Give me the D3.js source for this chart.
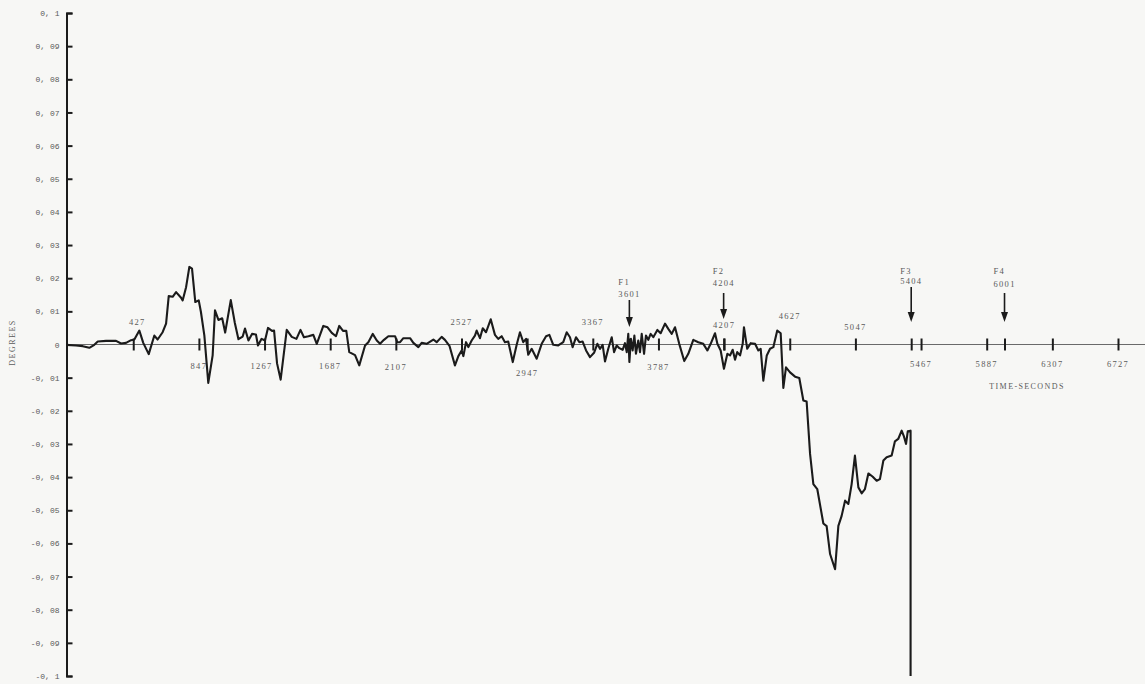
<!DOCTYPE html>
<html>
<head>
<meta charset="utf-8">
<script src="https://cdn.jsdelivr.net/npm/d3@7"></script>
<style>
  html, body { margin: 0; padding: 0; background: #f7f7f5; }
  svg { display: block; }
</style>
</head>
<body>
<svg id="chart" width="1145" height="684"></svg>
<script>
// Attitude error trace (degrees) against elapsed time (seconds)
const timeSec = [
  0, 61, 104, 146, 178, 200, 253, 317, 349, 381,
  413, 434, 466, 491, 526, 562, 583, 615, 637, 654,
  679, 701, 733, 743, 765, 786, 803, 824, 846, 860,
  882, 907, 935, 950, 972, 996, 1015, 1051, 1077, 1100,
  1127, 1142, 1164, 1187, 1212, 1225, 1248, 1270, 1289, 1315,
  1328, 1347, 1370, 1409, 1441, 1471, 1497, 1519, 1548, 1579,
  1601, 1643, 1670, 1697, 1724, 1745, 1769, 1790, 1809, 1846,
  1873, 1910, 1931, 1959, 1985, 2006, 2031, 2059, 2102, 2116,
  2134, 2155, 2198, 2219, 2251, 2272, 2304, 2347, 2368, 2400,
  2421, 2450, 2485, 2507, 2528, 2539, 2556, 2571, 2592, 2613,
  2624, 2645, 2663, 2684, 2714, 2741, 2762, 2784, 2805, 2826,
  2855, 2880, 2901, 2922, 2940, 2954, 2976, 3008, 3040, 3068,
  3089, 3114, 3146, 3178, 3200, 3221, 3238, 3260, 3281, 3302,
  3324, 3349, 3375, 3396, 3413, 3430, 3445, 3466, 3488, 3503,
  3520, 3537, 3558, 3573, 3584, 3594, 3601, 3611, 3622, 3633,
  3643, 3658, 3669, 3680, 3695, 3707, 3722, 3737, 3754, 3780,
  3801, 3829, 3850, 3872, 3893, 3920, 3952, 3978, 4010, 4042,
  4074, 4100, 4121, 4149, 4164, 4185, 4206, 4228, 4245, 4262,
  4277, 4291, 4309, 4326, 4334, 4355, 4377, 4405, 4426, 4441,
  4458, 4480, 4501, 4522, 4547, 4569, 4586, 4603, 4629, 4661,
  4688, 4714, 4735, 4757, 4778, 4803, 4842, 4863, 4885, 4917,
  4938, 4959, 4981, 5002, 5023, 5044, 5066, 5087, 5108, 5130,
  5158, 5183, 5204, 5226, 5247, 5279, 5300, 5321, 5343, 5358,
  5371, 5382, 5400, 5400
];
const degrees = [
  -0.0001, -0.0003, -0.0005, -0.0010, -0.0001, 0.0009, 0.0011, 0.0011, 0.0003, 0.0005,
  0.0013, 0.0015, 0.0042, 0.0005, -0.0029, 0.0027, 0.0015, 0.0037, 0.0063, 0.0146,
  0.0144, 0.0158, 0.0141, 0.0133, 0.0173, 0.0234, 0.0229, 0.0128, 0.0133, 0.0098,
  0.0027, -0.0116, -0.0033, 0.0103, 0.0074, 0.0079, 0.0036, 0.0134, 0.0065, 0.0016,
  0.0024, 0.0048, 0.0012, 0.0032, 0.0030, -0.0003, 0.0017, 0.0012, 0.0050, 0.0041,
  0.0042, -0.0057, -0.0106, 0.0044, 0.0023, 0.0017, 0.0044, 0.0022, 0.0025, 0.0029,
  0.0002, 0.0056, 0.0052, 0.0035, 0.0025, 0.0056, 0.0041, 0.0041, -0.0023, -0.0032,
  -0.0063, -0.0003, 0.0007, 0.0032, 0.0012, 0.0002, 0.0014, 0.0025, 0.0025, 0.0007,
  0.0007, 0.0019, 0.0019, 0.0005, -0.0008, 0.0005, 0.0002, 0.0015, 0.0007, 0.0023,
  0.0014, -0.0004, -0.0063, -0.0035, -0.0018, -0.0035, 0.0007, -0.0008, 0.0012, 0.0027,
  0.0042, 0.0019, 0.0049, 0.0037, 0.0076, 0.0029, 0.0017, 0.0025, 0.0007, 0.0009,
  -0.0053, -0.0001, 0.0037, 0.0007, 0.0017, -0.0031, -0.0013, -0.0043, 0.0002, 0.0025,
  0.0029, -0.0001, -0.0003, 0.0007, 0.0037, 0.0022, -0.0008, 0.0022, 0.0007, 0.0009,
  -0.0018, -0.0038, -0.0025, 0.0002, -0.0013, -0.0001, -0.0051, -0.0013, 0.0022, -0.0023,
  -0.0003, -0.0011, -0.0016, 0.0004, -0.0023, 0.0032, -0.0053, 0.0017, -0.0018, 0.0027,
  -0.0028, 0.0012, -0.0023, 0.0032, -0.0028, 0.0027, 0.0014, 0.0032, 0.0022, 0.0044,
  0.0034, 0.0063, 0.0047, 0.0032, 0.0052, 0.0002, -0.0050, -0.0028, 0.0014, 0.0007,
  0.0002, -0.0018, 0.0002, 0.0034, 0.0002, -0.0018, -0.0073, -0.0028, -0.0033, -0.0016,
  -0.0046, -0.0023, -0.0033, 0.0002, 0.0052, -0.0013, 0.0004, 0.0002, -0.0018, -0.0013,
  -0.0109, -0.0033, -0.0013, -0.0008, 0.0042, 0.0034, -0.0131, -0.0069, -0.0084, -0.0097,
  -0.0101, -0.0169, -0.0172, -0.0330, -0.0421, -0.0436, -0.0540, -0.0548, -0.0632, -0.0678,
  -0.0547, -0.0517, -0.0471, -0.0481, -0.0421, -0.0335, -0.0431, -0.0449, -0.0436, -0.0389,
  -0.0399, -0.0411, -0.0406, -0.0350, -0.0340, -0.0335, -0.0292, -0.0285, -0.0260, -0.0278,
  -0.0300, -0.0262, -0.0260, -0.1000
];

const yTickValues = [0.1, 0.09, 0.08, 0.07, 0.06, 0.05, 0.04, 0.03, 0.02, 0.01, 0,
  -0.01, -0.02, -0.03, -0.04, -0.05, -0.06, -0.07, -0.08, -0.09, -0.1];
const yTickLabels = ["0, 1", "0, 09", "0, 08", "0, 07", "0, 06", "0, 05", "0, 04", "0, 03", "0, 02", "0, 01", "0",
  "-0, 01", "-0, 02", "-0, 03", "-0, 04", "-0, 05", "-0, 06", "-0, 07", "-0, 08", "-0, 09", "-0, 1"];
const xTickValues = [427, 847, 1267, 1687, 2107, 2527, 2947, 3367, 3787, 4207, 4627, 5047, 5467, 5887, 6307, 6727];
const eventNames = ["F1", "F2", "F3", "F4"];
const eventTimes = [3601, 4204, 5404, 6001];

const svg = d3.select("#chart");
const x = d3.scaleLinear().domain([0, 6727]).range([66.5, 1118]);
const y = d3.scaleLinear().domain([-0.1, 0.1]).range([676, 13]);
const y0 = y(0);

const INK = "#1b1b1b";
const TEXT = "#5a5a5a";

// Zero line running across the page
svg.append("line")
  .attr("x1", x(0)).attr("x2", 1145)
  .attr("y1", y0).attr("y2", y0)
  .attr("stroke", "#6a6a6a").attr("stroke-width", 1.2);

// Vertical axis with ticks pointing into the plot
const yAxis = d3.axisLeft(y)
  .tickValues(yTickValues)
  .tickFormat(d => yTickLabels[yTickValues.indexOf(d)])
  .tickSizeInner(-6)
  .tickSizeOuter(-6)
  .tickPadding(7);

const gy = svg.append("g").attr("transform", `translate(${x(0)},0)`).call(yAxis);
gy.select(".domain").attr("stroke", INK).attr("stroke-width", 2);
gy.selectAll(".tick line").attr("stroke", INK).attr("stroke-width", 2);
gy.selectAll(".tick").filter(d => d === 0).select("line").remove();
gy.selectAll(".tick text")
  .attr("font-family", "Liberation Mono, DejaVu Sans Mono, monospace")
  .attr("font-size", 8)
  .attr("fill", TEXT);

// Horizontal axis ticks crossing the zero line
const xAxis = d3.axisBottom(x)
  .tickValues(xTickValues.concat(eventTimes))
  .tickSize(12)
  .tickFormat("");
const gx = svg.append("g").attr("transform", `translate(0,${y0 - 6})`).call(xAxis);
gx.select(".domain").remove();
gx.selectAll(".tick line").attr("stroke", INK).attr("stroke-width", 2);

// Tick labels placed above or below the line, clear of the trace
const labelDy = {
  427: -19.5, 847: 24.5, 1267: 24.5, 1687: 24.5, 2107: 25, 2527: -19.5, 2947: 31.5,
  3367: -19.5, 3787: 25, 4207: -16.5, 4627: -25.5, 5047: -14.5, 5467: 22.5,
  5887: 22.5, 6307: 22.5, 6727: 22.5
};
const labelDx = { 427: 4, 1267: -3 };
svg.append("g").selectAll("text")
  .data(xTickValues)
  .join("text")
  .attr("x", d => x(d) + (labelDx[d] || 0))
  .attr("y", d => y0 + labelDy[d])
  .attr("text-anchor", "middle")
  .attr("font-family", "Liberation Serif, serif")
  .attr("font-size", 8.5)
  .attr("letter-spacing", 1.3)
  .attr("fill", TEXT)
  .text(d => d);

// Event markers with arrows
const eventLayout = [
  { nameY: 285, valueY: 296.5, top: 300, tip: 327 },
  { nameY: 273.5, valueY: 286, top: 293, tip: 319 },
  { nameY: 273.5, valueY: 283.5, top: 287, tip: 322 },
  { nameY: 273.5, valueY: 287, top: 293, tip: 322 }
];
const ev = svg.append("g").selectAll("g")
  .data(eventTimes.map((t, i) => ({ t, name: eventNames[i], L: eventLayout[i] })))
  .join("g");
ev.append("text")
  .attr("x", d => x(d.t) - 11).attr("y", d => d.L.nameY)
  .attr("font-family", "Liberation Serif, serif")
  .attr("font-size", 8.5).attr("letter-spacing", 1.3)
  .attr("fill", TEXT)
  .text(d => d.name);
ev.append("text")
  .attr("x", d => x(d.t) - 11).attr("y", d => d.L.valueY)
  .attr("font-family", "Liberation Serif, serif")
  .attr("font-size", 8.5).attr("letter-spacing", 1.3)
  .attr("fill", TEXT)
  .text(d => d.t);
ev.append("line")
  .attr("x1", d => x(d.t)).attr("x2", d => x(d.t))
  .attr("y1", d => d.L.top).attr("y2", d => d.L.tip - 6)
  .attr("stroke", INK).attr("stroke-width", 1.6);
ev.append("path")
  .attr("d", d => {
    const cx = x(d.t);
    return `M${cx},${d.L.tip}L${cx - 3.5},${d.L.tip - 10}L${cx + 3.5},${d.L.tip - 10}Z`;
  })
  .attr("fill", INK);

// The trace
const points = timeSec.map((t, i) => [t, degrees[i]]);
svg.append("path")
  .datum(points)
  .attr("fill", "none")
  .attr("stroke", INK)
  .attr("stroke-width", 2.1)
  .attr("stroke-linejoin", "round")
  .attr("d", d3.line().x(d => x(d[0])).y(d => y(d[1])));

// Axis titles
svg.append("text")
  .attr("transform", `translate(15,${y0 - 2}) rotate(-90)`)
  .attr("text-anchor", "middle")
  .attr("font-family", "Liberation Serif, serif")
  .attr("font-size", 8)
  .attr("letter-spacing", 1.5)
  .attr("fill", TEXT)
  .text("DEGREES");

svg.append("text")
  .attr("x", 1027).attr("y", 389)
  .attr("text-anchor", "middle")
  .attr("font-family", "Liberation Serif, serif")
  .attr("font-size", 8)
  .attr("letter-spacing", 1.4)
  .attr("fill", TEXT)
  .text("TIME-SECONDS");
</script>
</body>
</html>
